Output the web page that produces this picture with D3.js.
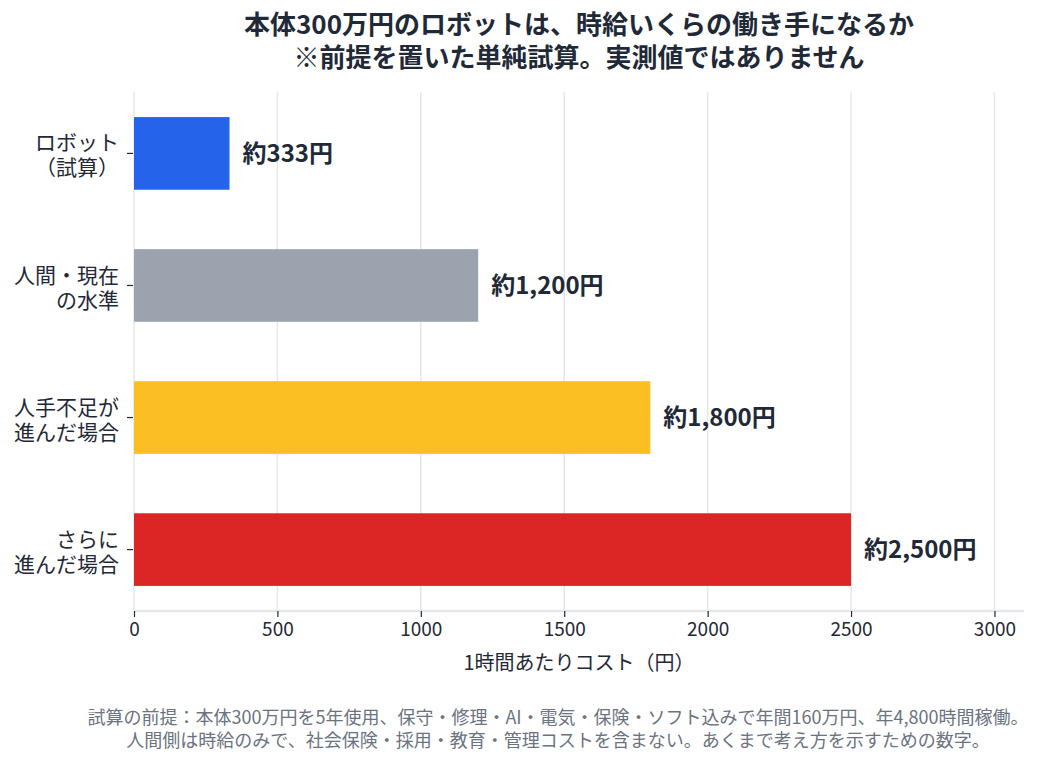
<!DOCTYPE html>
<html><head><meta charset="utf-8">
<script src="https://cdn.jsdelivr.net/npm/d3@7"></script>
<style>
body{margin:0;background:#fff;}
svg{display:block;font-family:"Noto Sans CJK JP","Noto Sans",sans-serif;}
</style></head>
<body>
<svg id="chart" width="1061" height="763"></svg>
<script>
const categories = [["ロボット","（試算）"],["人間・現在","の水準"],["人手不足が","進んだ場合"],["さらに","進んだ場合"]];
const values = [333, 1200, 1800, 2500];
const valueLabels = ["約333円","約1,200円","約1,800円","約2,500円"];
const colors = ["#2563eb","#9ca3af","#fbbf24","#dc2626"];
const xTicks = [0,500,1000,1500,2000,2500,3000];
const titleLines = ["本体300万円のロボットは、時給いくらの働き手になるか","※前提を置いた単純試算。実測値ではありません"];
const xTitle = "1時間あたりコスト（円）";
const footLines = ["試算の前提：本体300万円を5年使用、保守・修理・AI・電気・保険・ソフト込みで年間160万円、年4,800時間稼働。","人間側は時給のみで、社会保険・採用・教育・管理コストを含まない。あくまで考え方を示すための数字。"];

const svg = d3.select("#chart");
const m = {l:134, r:1024, t:92, b:611};
const x = d3.scaleLinear().domain([0,3103]).range([m.l, m.r]);
const y = d3.scaleBand().domain(d3.range(categories.length)).range([m.t, m.b]).paddingInner(0.45).paddingOuter(0.19);
const dark = "#1f2937";

// grid
svg.append("g").selectAll("line").data(xTicks).join("line")
  .attr("x1", d=>x(d)).attr("x2", d=>x(d)).attr("y1", m.t).attr("y2", m.b)
  .attr("stroke","#e5e7eb").attr("stroke-width",1.5);

// bars
svg.append("g").selectAll("rect").data(values).join("rect")
  .attr("x", x(0)).attr("y",(d,i)=>y(i)).attr("width", d=>x(d)-x(0)).attr("height", y.bandwidth())
  .attr("fill",(d,i)=>colors[i]);

// value labels
svg.append("g").selectAll("text").data(values).join("text")
  .attr("x", d=>x(d)+13).attr("y",(d,i)=>y(i)+y.bandwidth()/2)
  .attr("dy","0.36em").attr("font-size",24).attr("font-weight",700).attr("fill",dark)
  .text((d,i)=>valueLabels[i]);

// x axis
const xa = svg.append("g").attr("transform",`translate(0,${m.b})`)
  .call(d3.axisBottom(x).tickValues(xTicks).tickSize(6).tickPadding(6).tickFormat(d3.format("d")));
xa.select(".domain").attr("stroke","#e5e7eb").attr("stroke-width",2.5).attr("d",`M${m.l},0H${m.r}`);
xa.selectAll(".tick line").attr("stroke",dark).attr("stroke-width",1.2);
xa.selectAll(".tick text").attr("font-size",19).attr("fill",dark).attr("font-family","'Noto Sans CJK JP',sans-serif");

// y axis
const ya = svg.append("g").attr("transform",`translate(${m.l},0)`)
  .call(d3.axisLeft(y).tickSize(6).tickFormat(""));
ya.select(".domain").remove();
ya.selectAll(".tick line").attr("stroke",dark).attr("stroke-width",1.2).attr("transform","translate(-1,0)");
const yl = svg.append("g");
categories.forEach((c,i)=>{
  const cy = y(i)+y.bandwidth()/2 + 2;
  c.forEach((line,j)=>{
    yl.append("text").attr("text-anchor","end").attr("font-size",21).attr("fill",dark)
      .attr("x",119).attr("y",cy + (j - (c.length-1)/2)*25).attr("dy","0.36em").text(line);
  });
});

// title
svg.append("g").selectAll("text").data(titleLines).join("text")
  .attr("x",(m.l+m.r)/2).attr("y",(d,i)=>25+i*33).attr("dy","0.36em")
  .attr("text-anchor","middle").attr("font-size",26).attr("font-weight",700).attr("fill",dark)
  .text(d=>d);

// x title
svg.append("text").attr("x",(m.l+m.r)/2).attr("y",663).attr("dy","0.36em")
  .attr("text-anchor","middle").attr("font-size",20).attr("fill",dark).text(xTitle);

// footer
svg.append("g").selectAll("text").data(footLines).join("text")
  .attr("x",558).attr("y",(d,i)=>718+i*23).attr("dy","0.36em")
  .attr("text-anchor","middle").attr("font-size",18).attr("fill","#6b7280")
  .text(d=>d);
</script>
</body></html>
